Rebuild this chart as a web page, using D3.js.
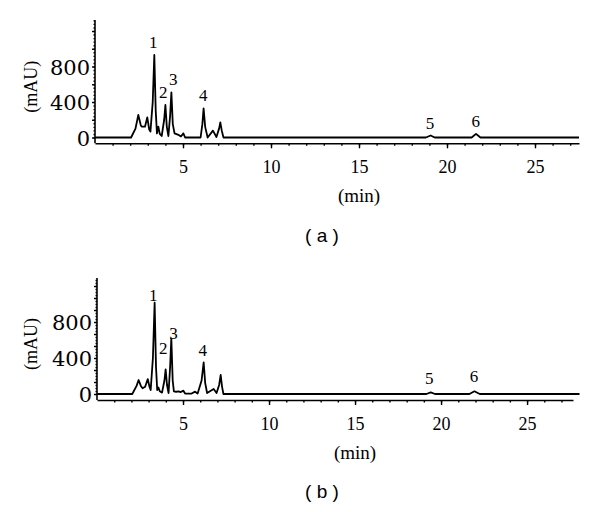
<!DOCTYPE html>
<html>
<head>
<meta charset="utf-8">
<script src="https://cdn.jsdelivr.net/npm/d3@7"></script>
<style>
  body { margin: 0; background: #fff; }
  svg { display: block; }
</style>
</head>
<body>
<div id="chart"></div>
<script>
// Panel (a) trace: retention time (min) and absorbance (mAU)
const timesA = [0, 2.05, 2.3, 2.46, 2.6, 2.65, 2.84, 2.97, 3.08, 3.15, 3.28, 3.37, 3.45, 3.52, 3.6, 3.68, 3.79, 3.93, 4.0, 4.08, 4.17, 4.27, 4.34, 4.42, 4.52, 4.74, 4.88, 5.02, 5.12, 6.0, 6.1, 6.17, 6.26, 6.4, 6.7, 6.9, 7.05, 7.12, 7.2, 7.3, 18.8, 19.07, 19.3, 21.4, 21.65, 21.9, 27.5];
const valuesA = [0, 0, 100, 254, 140, 122, 122, 227, 90, 66, 400, 930, 300, 47, 122, 40, 17, 200, 366, 120, 17, 250, 509, 150, 47, 30, 12, 47, 0, 0, 150, 329, 120, 0, 77, 5, 100, 171, 80, 0, 0, 23, 0, 0, 41, 0, 0];

// Panel (b) trace
const timesB = [0, 2.05, 2.3, 2.42, 2.55, 2.65, 2.8, 2.95, 3.05, 3.12, 3.25, 3.35, 3.43, 3.5, 3.57, 3.65, 3.78, 3.92, 3.99, 4.07, 4.16, 4.25, 4.32, 4.4, 4.47, 4.6, 4.75, 4.85, 5.02, 5.12, 5.5, 5.7, 5.85, 6.08, 6.2, 6.29, 6.4, 6.78, 6.95, 7.1, 7.19, 7.27, 7.35, 19.15, 19.4, 19.65, 21.65, 21.94, 22.25, 28.05];
const valuesB = [0, 0, 90, 155, 90, 63, 80, 166, 80, 44, 400, 1014, 300, 44, 72, 30, 15, 150, 274, 100, 11, 300, 618, 150, 30, 25, 30, 20, 37, 5, 5, 26, 5, 150, 352, 120, 11, 55, 11, 100, 211, 80, 0, 0, 18, 0, 0, 30, 0, 0];

// Peak numbers and where they sit (time, mAU)
const peakNames = ['1', '2', '3', '4', '5', '6'];
const labelTimesA = [3.31, 3.88, 4.45, 6.15, 19.03, 21.63];
const labelValuesA = [1080, 516, 659, 479, 167, 186];
const labelTimesB = [3.27, 3.85, 4.44, 6.15, 19.32, 21.92];
const labelValuesB = [1099, 507, 674, 488, 181, 200];

// Axis ticks
const xMajorTicks = [5, 10, 15, 20, 25];
const xMinorTicks = d3.range(1, 28);
const yLabelTicks = [0, 400, 800];
const yMajorTicksA = [0, 200, 400, 600, 800, 1000, 1200];
const yMajorTicksB = [0, 400 / 3, 800 / 3, 400, 1600 / 3, 2000 / 3, 800, 2800 / 3, 3200 / 3, 1200];

const svgWidth = 600;
const svgHeight = 512;

const svg = d3.select('#chart').append('svg')
    .attr('width', svgWidth)
    .attr('height', svgHeight);

svg.append('rect')
    .attr('width', svgWidth)
    .attr('height', svgHeight)
    .attr('fill', '#fff');

displayPanel(svg, {
  times: timesA,
  values: valuesA,
  labelTimes: labelTimesA,
  labelValues: labelValuesA,
  xDomain: [0, 27.5],
  xRange: [95, 579],
  yDomain: [0, 1324],
  yRange: [137.5, 20],
  xAxisY: 143.3,
  yMajor: yMajorTicksA,
  yMinorStep: 40,
  caption: '( a )',
  captionY: 242,
});

displayPanel(svg, {
  times: timesB,
  values: valuesB,
  labelTimes: labelTimesB,
  labelValues: labelValuesB,
  xDomain: [0, 27.67],
  xRange: [97, 573],
  yDomain: [0, 1289],
  yRange: [394, 278],
  xAxisY: 400,
  yMajor: yMajorTicksB,
  yMinorStep: 400 / 12,
  caption: '( b )',
  captionY: 498,
});

function displayPanel(svg, cfg) {
  const x = d3.scaleLinear(cfg.xDomain, cfg.xRange);
  const y = d3.scaleLinear(cfg.yDomain, cfg.yRange);
  const g = svg.append('g');

  // X-axis: minor ticks every minute, major every 5
  g.append('g')
      .attr('transform', `translate(0, ${cfg.xAxisY})`)
      .call(d3.axisBottom(x).tickValues(xMinorTicks).tickSize(2.5).tickFormat(''))
      .call(a => a.select('.domain').remove());

  const xAxis = g.append('g')
      .attr('transform', `translate(0, ${cfg.xAxisY})`)
      .call(d3.axisBottom(x).tickValues(xMajorTicks).tickSize(5).tickSizeOuter(0).tickPadding(12));

  xAxis.selectAll('text')
      .style('font-family', '"Liberation Serif", serif')
      .style('font-size', '18px')
      .attr('fill', '#000');

  // Y-axis
  const yMinor = d3.range(0, cfg.yDomain[1], cfg.yMinorStep);
  g.append('g')
      .attr('transform', `translate(${x(0)}, 0)`)
      .call(d3.axisLeft(y).tickValues(yMinor).tickSize(1.5).tickFormat(''))
      .call(a => a.select('.domain').remove());

  const yAxis = g.append('g')
      .attr('transform', `translate(${x(0)}, 0)`)
      .call(d3.axisLeft(y).tickValues(cfg.yMajor).tickSize(3)
          .tickFormat(d => yLabelTicks.includes(d) ? d : ''))
      .call(a => a.select('.domain').remove());

  yAxis.selectAll('text')
      .attr('x', -5)
      .attr('dy', '0.36em')
      .style('font-family', '"DejaVu Serif", serif')
      .style('font-size', '21px')
      .attr('fill', '#000');

  g.append('line')
      .attr('x1', x(0))
      .attr('x2', x(0))
      .attr('y1', cfg.yRange[1])
      .attr('y2', cfg.xAxisY)
      .attr('stroke', '#000')
      .attr('stroke-width', 1.6);

  g.selectAll('.domain, .tick line')
      .attr('stroke', '#000')
      .attr('stroke-width', 1.4);

  // Trace
  const line = d3.line()
      .x(i => x(cfg.times[i]))
      .y(i => y(cfg.values[i]));

  g.append('path')
      .datum(d3.range(cfg.times.length))
      .attr('d', line)
      .attr('fill', 'none')
      .attr('stroke', '#000')
      .attr('stroke-width', 1.8)
      .attr('stroke-linejoin', 'round');

  // Peak numbers
  g.selectAll('.peak-label')
      .data(peakNames)
      .join('text')
      .attr('class', 'peak-label')
      .attr('x', (d, i) => x(cfg.labelTimes[i]))
      .attr('y', (d, i) => y(cfg.labelValues[i]))
      .attr('dy', '0.35em')
      .style('text-anchor', 'middle')
      .style('font-family', '"Liberation Serif", serif')
      .style('font-size', '17px')
      .text(d => d);

  // Axis titles
  g.append('text')
      .attr('transform', `translate(37, ${(y(0) + cfg.yRange[1]) / 2 + 8}) rotate(-90)`)
      .style('text-anchor', 'middle')
      .style('font-family', '"Liberation Serif", serif')
      .style('font-size', '18px')
      .text('(mAU)');

  g.append('text')
      .attr('x', x(15))
      .attr('y', cfg.xAxisY + 59)
      .style('text-anchor', 'middle')
      .style('font-family', '"Liberation Serif", serif')
      .style('font-size', '19px')
      .text('(min)');

  // Panel caption
  g.append('text')
      .attr('x', 322)
      .attr('y', cfg.captionY)
      .style('text-anchor', 'middle')
      .style('font-family', '"Liberation Sans", sans-serif')
      .style('font-size', '19px')
      .text(cfg.caption);
}
</script>
</body>
</html>
